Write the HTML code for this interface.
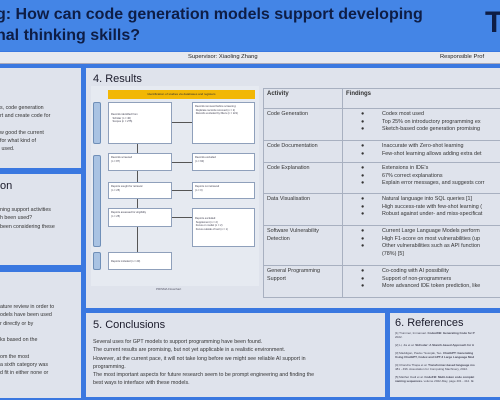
<!DOCTYPE html>
<html><head><meta charset="utf-8"><style>
*{margin:0;padding:0;box-sizing:border-box}
body{width:500px;height:400px;overflow:hidden;background:#3a78e0;font-family:"Liberation Sans",sans-serif;position:relative}
.a{position:absolute;white-space:nowrap}
.p{position:absolute;background:#dfe3ec}
.t{font-size:5.3px;color:#333;line-height:8.3px}
.h{font-size:11px;color:#1a1a2a}
.b{position:absolute;background:#fff;border:1px solid #8fa0bb;font-size:2.6px;color:#445;padding:2px;line-height:3.5px}
.s{position:absolute;background:#a9c3e3;border:1px solid #6f8fb8;border-radius:2px;width:8px}
.v{position:absolute;width:1px;background:#555;left:137px}
.hz{position:absolute;height:1px;background:#555;left:172px;width:20px}
table{position:absolute;left:263px;top:88px;border-collapse:collapse;font-size:5.4px;color:#333}
td{border:1px solid #a8b0c0;vertical-align:top;padding:2px 3px;line-height:7.6px}
.bl{padding-left:18px;white-space:nowrap}
.bl span{display:inline-block;width:21px}
</style></head><body>
<div class="a" style="left:0;top:0;width:500px;height:51px;background:#4485e6"></div>
<div class="a" style="left:-4px;top:4px;font-size:16px;font-weight:bold;color:#0e1d45;line-height:21px">g: How can code generation models support developing<br>nal thinking skills?</div>
<div class="a" style="left:485px;top:8px;font-size:30px;font-weight:bold;color:#0e1d45;line-height:30px">T</div>
<div class="a" style="left:0;top:52px;width:500px;height:12px;background:#e7e9ef;border-bottom:1px solid #aab"></div>
<div class="a" style="left:188px;top:54px;font-size:5.8px;color:#222">Supervisor: Xiaoling Zhang</div>
<div class="a" style="left:440px;top:54px;font-size:5.8px;color:#222">Responsible Prof</div>

<div class="p" style="left:0;top:68px;width:81px;height:100px"></div>
<div class="a t" style="left:0;top:104px">s, code generation<br>rt and create code for<br><br>w good the current<br>for what kind of<br>&nbsp;used.</div>
<div class="p" style="left:0;top:174px;width:81px;height:91px"></div>
<div class="a h" style="left:0;top:180px">on</div>
<div class="a t" style="left:0;top:206px">ning support activities<br>h been used?<br>been considering these</div>
<div class="p" style="left:0;top:272px;width:81px;height:126px"></div>
<div class="a t" style="left:0;top:303px">ature review in order to<br>odels have been used<br>r directly or by<br><br>ks based on the<br><br>om the most<br>a sixth category was<br>d fit in either none or</div>

<div class="p" style="left:86px;top:68px;width:414px;height:240px"></div>
<div class="a h" style="left:93px;top:73px">4. Results</div>
<div class="a" style="left:91px;top:86px;width:168px;height:200px;background:#e6eaf1"></div>
<div class="a" style="left:108px;top:90px;width:147px;height:9px;background:#f2b705;font-size:3px;text-align:center;line-height:9px;color:#333">Identification of studies via databases and registers</div>
<div class="s" style="left:93px;top:102px;height:42px"></div>
<div class="s" style="left:93px;top:155px;height:92px"></div>
<div class="s" style="left:93px;top:252px;height:18px"></div>
<div class="b" style="left:108px;top:102px;width:64px;height:42px;padding-top:10px">Records identified from<br>&nbsp;&nbsp;Scholar (n = 40)<br>&nbsp;&nbsp;Scopus (n = 275)</div>
<div class="b" style="left:192px;top:102px;width:63px;height:42px">Records removed before screening:<br>&nbsp;Duplicate records removed (n = 2)<br>&nbsp;Records excluded by filters (n = 221)</div>
<div class="b" style="left:108px;top:153px;width:64px;height:18px">Records screened<br>(n = 87)</div>
<div class="b" style="left:192px;top:153px;width:63px;height:18px">Records excluded<br>(n = 60)</div>
<div class="b" style="left:108px;top:182px;width:64px;height:17px">Reports sought for retrieval<br>(n = 25)</div>
<div class="b" style="left:192px;top:182px;width:63px;height:17px">Reports not retrieved<br>(n = 0)</div>
<div class="b" style="left:108px;top:208px;width:64px;height:19px">Reports assessed for eligibility<br>(n = 25)</div>
<div class="b" style="left:192px;top:208px;width:63px;height:39px;padding-top:8px">Reports excluded:<br>&nbsp;Supplement (n = 2)<br>&nbsp;Focus on model (n = 2)<br>&nbsp;Focus outside of tool (n = 1)</div>
<div class="b" style="left:108px;top:252px;width:64px;height:18px;padding-top:7px">Reports included (n = 20)</div>
<div class="v" style="top:144px;height:9px"></div>
<div class="v" style="top:171px;height:11px"></div>
<div class="v" style="top:199px;height:9px"></div>
<div class="v" style="top:227px;height:25px"></div>
<div class="hz" style="top:122px"></div>
<div class="hz" style="top:162px"></div>
<div class="hz" style="top:190px"></div>
<div class="hz" style="top:217px"></div>
<div class="a" style="left:156px;top:287px;font-size:3px;color:#556">PRISMA Flowchart</div>

<table style="width:245px">
<tr style="height:20px"><td style="width:79px;font-weight:bold;font-size:6px">Activity</td><td style="font-weight:bold;font-size:6px">Findings</td></tr>
<tr style="height:32px"><td>Code Generation</td><td class="bl"><span>●</span>Codex most used<br><span>●</span>Top 25% on introductory programming ex<br><span>●</span>Sketch-based code generation promising</td></tr>
<tr style="height:22px"><td>Code Documentation</td><td class="bl"><span>●</span>Inaccurate with Zero-shot learning<br><span>●</span>Few-shot learning allows adding extra det</td></tr>
<tr style="height:31px"><td>Code Explanation</td><td class="bl"><span>●</span>Extensions in IDE's<br><span>●</span>67% correct explanations<br><span>●</span>Explain error messages, and suggests corr</td></tr>
<tr style="height:32px"><td>Data Visualisation</td><td class="bl"><span>●</span>Natural language into SQL queries [1]<br><span>●</span>High success-rate with few-shot learning (<br><span>●</span>Robust against under- and miss-specificat</td></tr>
<tr style="height:40px"><td>Software Vulnerability Detection</td><td class="bl"><span>●</span>Current Large Language Models perform<br><span>●</span>High F1-score on most vulnerabilities (up<br><span>●</span>Other vulnerabilities such as API function<br><span></span>(78%) [5]</td></tr>
<tr style="height:32px"><td>General Programming Support</td><td class="bl"><span>●</span>Co-coding with AI possibility<br><span>●</span>Support of non-programmers<br><span>●</span>More advanced IDE token prediction, like</td></tr>
</table>

<div class="p" style="left:86px;top:313px;width:299px;height:84px"></div>
<div class="a h" style="left:93px;top:319px">5. Conclusions</div>
<div class="a t" style="left:93px;top:338px">Several uses for GPT models to support programming have been found.<br>The current results are promising, but not yet applicable in a realistic environment.<br>However, at the current pace, it will not take long before we might see reliable AI support in<br>programming.<br>The most important aspects for future research seem to be prompt engineering and finding the<br>best ways to interface with these models.</div>
<div class="p" style="left:390px;top:313px;width:110px;height:84px"></div>
<div class="a h" style="left:395px;top:317px">6. References</div>
<div class="a" style="left:395px;top:331px;font-size:3px;color:#445;line-height:4px">[1] Trummer, Immanuel. <b>CodexDB: Generating Code for P</b><br>2022.<br><br>[2] Li, Jia et al. <b>SkCoder: A Sketch-based Approach for A</b><br><br>[3] Maddigan, Paula / Susnjak, Teo. <b>ChatGPT: Generating</b><br><b>Using ChatGPT, Codex and GPT-3 Large Language Mod</b><br><br>[4] Chandra Thapa et al. <b>Transformer-based language mo</b><br>481 - 496. Association for Computing Machinery, 2022.<br><br>[5] Maithet Izadi et al. <b>CodeFill: Multi-token code complet</b><br><b>naming sequences.</b> volume 2022-May, page 401 - 412. IE</div>
</body></html>
